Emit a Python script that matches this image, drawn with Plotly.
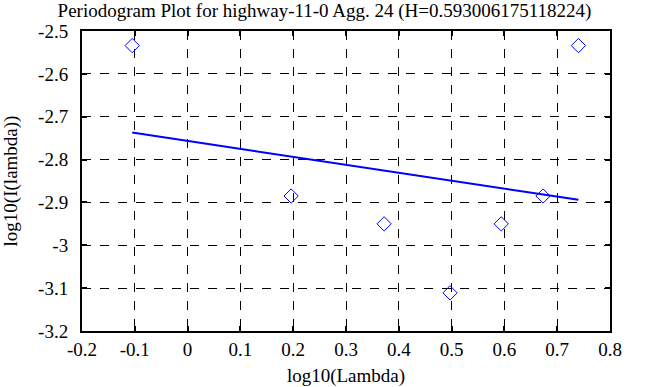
import plotly.graph_objects as go

# Data
log_lambda = [-0.1049, 0.1961, 0.3722, 0.4971, 0.5941, 0.6732, 0.7402]
log_I = [-2.534, -2.885, -2.950, -3.111, -2.950, -2.885, -2.534]

fit_x = [-0.1049, 0.7402]
fit_y = [-2.737, -2.894]

x_ticks = [-0.2, -0.1, 0, 0.1, 0.2, 0.3, 0.4, 0.5, 0.6, 0.7, 0.8]
x_tick_text = ["-0.2", "-0.1", "0", "0.1", "0.2", "0.3", "0.4", "0.5", "0.6", "0.7", "0.8"]
y_ticks = [-3.2, -3.1, -3.0, -2.9, -2.8, -2.7, -2.6, -2.5]
y_tick_text = ["-3.2", "-3.1", "-3", "-2.9", "-2.8", "-2.7", "-2.6", "-2.5"]

title_text = "Periodogram Plot for highway-11-0 Agg. 24 (H=0.593006175118224)"

FONT = "Liberation Serif, Times New Roman, serif"
FS = 19

W, H = 668, 387

fig = go.Figure()
fig.add_trace(go.Scatter(
    x=log_lambda, y=log_I, mode="markers",
    marker=dict(symbol="diamond-open", size=11, color="#0000ff", line=dict(width=1, color="#0000ff")),
    showlegend=False, hoverinfo="skip",
))
fig.add_trace(go.Scatter(
    x=fit_x, y=fit_y, mode="lines",
    line=dict(color="#0000ff", width=2),
    showlegend=False, hoverinfo="skip",
))

axis_common = dict(
    showgrid=True, gridcolor="black", griddash="dash", gridwidth=1,
    showline=True, linecolor="black", linewidth=2, mirror="ticks",
    ticks="inside", ticklen=5, tickwidth=2, tickcolor="black",
    zeroline=False, automargin=False,
    tickfont=dict(family=FONT, size=FS, color="black"),
)

fig.update_layout(
    width=W, height=H,
    margin=dict(l=82, r=58, t=31, b=56),
    paper_bgcolor="white", plot_bgcolor="white",
    font=dict(family=FONT, size=FS, color="black"),
    title=dict(text=title_text, x=324.5 / W, xanchor="center", xref="container",
               y=1 - 10 / H, yanchor="middle", yref="container",
               font=dict(family=FONT, size=FS, color="black")),
    xaxis=dict(range=[-0.2, 0.8], tickvals=x_ticks, ticktext=x_tick_text,
               title=dict(text="log10(Lambda)", font=dict(family=FONT, size=FS), standoff=10),
               **axis_common),
    yaxis=dict(range=[-3.2, -2.5], tickvals=y_ticks, ticktext=y_tick_text,
               ticklabelstandoff=8,
               title=dict(text="log10(I(lambda))", font=dict(family=FONT, size=FS), standoff=17),
               **axis_common),
)

# remove the browser's default page margin so the figure fills the window
fig.write_html("out.html", config={"displayModeBar": False},
               post_script="document.body.style.margin='0';")
